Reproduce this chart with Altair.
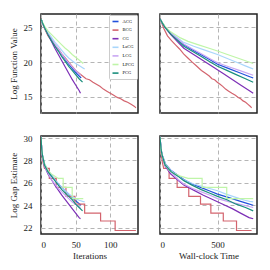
import altair as alt
import pandas as pd

methods = ["ACG", "BCG", "CG", "LaCG", "LCG", "LPCG", "PCG"]
colors = ["#2150dc", "#d3646e", "#7d2fb6", "#a9d6fb", "#c9a6f3", "#bff5a8", "#1a8f7d"]

# ---- function values (iterations, wall-clock time, log f) ----
ACG_it = [0, 1, 2, 5, 10, 15, 20, 25, 30, 35, 40, 45, 50, 55, 58]
ACG_t = [0, 9, 19, 47, 97, 152, 207, 280, 353, 427, 500, 593, 686, 763, 810]
ACG_f = [26.2, 26.0, 25.7, 25.0, 24.1, 23.3, 22.5, 21.8, 21.1, 20.4, 19.7, 19.1, 18.5, 18.0, 17.7]
ACG_g = [30.1, 29.0, 28.5, 27.7, 27.1, 26.7, 26.3, 25.9, 25.6, 25.3, 25.0, 24.7, 24.4, 24.15, 24.0]

BCG_it = [0, 1, 2, 5, 10, 15, 20, 25, 30, 35, 40, 45, 50, 55, 60, 65, 70, 75, 80, 85, 90,
          95, 100, 105, 110, 115, 120, 125, 130, 135, 137]
BCG_t = [0, 7, 14, 32, 65, 100, 135, 170, 205, 242, 280, 320, 360, 395, 428, 451, 475, 498,
         522, 545, 570, 597, 625, 655, 680, 701, 722, 744, 765, 786, 796]
BCG_f = [26.2, 26.0, 25.7, 24.9, 23.8, 23.1, 22.5, 21.9, 21.2, 20.6, 20.0, 19.4, 18.8, 18.4,
         18.0, 17.6, 17.45, 17.1, 16.8, 16.5, 16.1, 15.8, 15.5, 15.2, 14.9, 14.7, 14.4, 14.2,
         13.9, 13.6, 13.4]
BCG_git = [0, 1, 2, 3, 5, 12, 12, 22, 22, 36, 36, 49, 49, 63, 63, 86, 86, 107, 107, 137]
BCG_gt = [0, 7, 14, 21, 32, 79, 79, 149, 149, 250, 250, 352, 352, 442, 442, 550, 550, 665, 665, 796]
BCG_g = [30.1, 29.0, 28.3, 27.8, 27.3, 27.3, 26.4, 26.4, 25.6, 25.6, 24.8, 24.8, 24.1, 24.1,
         23.3, 23.3, 22.6, 22.6, 21.75, 21.75]

CG_it = [0, 1, 2, 5, 10, 15, 20, 25, 30, 35, 40, 45, 50, 55, 57]
CG_t = [0, 9, 18, 44, 92, 149, 207, 292, 377, 462, 546, 628, 700, 774, 810]
CG_f = [26.2, 26.0, 25.7, 25.0, 24.0, 23.0, 22.0, 21.1, 20.2, 19.3, 18.4, 17.5, 16.7, 15.9, 15.5]
CG_g = [30.1, 29.0, 28.4, 27.5, 26.8, 26.3, 25.8, 25.35, 24.9, 24.5, 24.1, 23.7, 23.3, 22.9, 22.8]

LaCG_it = [0, 1, 2, 5, 10, 15, 20, 25, 30, 35, 40, 45, 50, 55, 60, 63]
LaCG_t = [0, 9, 18, 46, 93, 146, 199, 293, 396, 500, 574, 633, 692, 736, 780, 810]
LaCG_f = [26.2, 26.0, 25.75, 25.1, 24.3, 23.6, 22.9, 22.3, 21.7, 21.1, 20.6, 20.2, 19.8, 19.5, 19.2, 19.0]
LaCG_g = [30.1, 29.0, 28.5, 27.7, 27.1, 26.7, 26.3, 25.9, 25.6, 25.3, 25.0, 24.8, 24.6, 24.45, 24.35, 24.3]

LCG_it = [0, 1, 2, 5, 10, 15, 20, 25, 30, 35, 40, 45, 50, 57]
LCG_t = [0, 9, 19, 47, 99, 157, 207, 283, 359, 435, 500, 603, 689, 810]
LCG_f = [26.2, 26.0, 25.7, 25.0, 24.1, 23.3, 22.6, 21.9, 21.2, 20.5, 19.9, 19.3, 18.8, 18.1]
LCG_g = [30.1, 29.0, 28.4, 27.5, 26.9, 26.3, 25.9, 25.5, 25.2, 24.9, 24.6, 24.3, 24.1, 23.8]

LPCG_it = [0, 1, 2, 5, 10, 15, 20, 25, 30, 35, 40, 45, 50, 55, 61]
LPCG_t = [0, 8, 17, 42, 82, 130, 178, 244, 335, 427, 500, 586, 655, 724, 810]
LPCG_f = [26.2, 26.0, 25.8, 25.2, 24.5, 24.0, 23.5, 23.0, 22.5, 22.0, 21.6, 21.1, 20.7, 20.3, 19.8]
LPCG_git = [0, 1, 2, 5, 10, 15, 20, 25, 32, 32, 45, 45, 61]
LPCG_gt = [0, 8, 17, 42, 82, 130, 178, 244, 366, 366, 580, 580, 810]
LPCG_g = [30.1, 29.0, 28.5, 27.7, 27.1, 26.8, 26.6, 26.4, 26.4, 25.6, 25.6, 24.6, 24.6]

PCG_it = [0, 1, 2, 5, 10, 15, 20, 25, 30, 35, 40, 45, 50, 55, 60]
PCG_t = [0, 9, 18, 44, 96, 155, 207, 278, 359, 429, 500, 581, 662, 743, 810]
PCG_f = [26.2, 26.0, 25.7, 25.0, 24.0, 23.1, 22.3, 21.6, 20.8, 20.1, 19.4, 18.8, 18.2, 17.6, 17.1]
PCG_g = [30.1, 29.0, 28.5, 27.6, 27.0, 26.6, 26.2, 25.8, 25.4, 25.1, 24.8, 24.5, 24.1, 23.8, 23.5]

f_series = {
    "ACG": (ACG_it, ACG_t, ACG_f),
    "BCG": (BCG_it, BCG_t, BCG_f),
    "CG": (CG_it, CG_t, CG_f),
    "LaCG": (LaCG_it, LaCG_t, LaCG_f),
    "LCG": (LCG_it, LCG_t, LCG_f),
    "LPCG": (LPCG_it, LPCG_t, LPCG_f),
    "PCG": (PCG_it, PCG_t, PCG_f),
}
g_series = {
    "ACG": (ACG_it, ACG_t, ACG_g),
    "BCG": (BCG_git, BCG_gt, BCG_g),
    "CG": (CG_it, CG_t, CG_g),
    "LaCG": (LaCG_it, LaCG_t, LaCG_g),
    "LCG": (LCG_it, LCG_t, LCG_g),
    "LPCG": (LPCG_git, LPCG_gt, LPCG_g),
    "PCG": (PCG_it, PCG_t, PCG_g),
}


def to_df(series):
    rows = []
    for m in methods:
        its, ts, vs = series[m]
        for i, (a, b, c) in enumerate(zip(its, ts, vs)):
            rows.append({"method": m, "it": a, "t": b, "v": c, "idx": i})
    return pd.DataFrame(rows)


df_f = to_df(f_series)
df_g = to_df(g_series)

FONT = "Liberation Serif"
W, H_TOP, H_BOT = 97, 99, 98


def panel(df, xfield, xdom, xvals, ydom, yvals, xlab, xtitle, ylab, ytitle, legend, h):
    xaxis = alt.Axis(values=xvals, labels=xlab, grid=True)
    yaxis = alt.Axis(values=yvals, labels=ylab, grid=True)
    xenc = alt.X(f"{xfield}:Q", scale=alt.Scale(domain=xdom, nice=False, zero=False),
                 axis=xaxis, title=xtitle if xtitle else None)
    yenc = alt.Y("v:Q", scale=alt.Scale(domain=ydom, nice=False, zero=False),
                 axis=yaxis, title=ytitle if ytitle else None)
    if legend:
        leg = alt.Legend(orient="top-right", title=None, offset=1, labelFont=FONT,
                         labelFontSize=4.5, symbolType="stroke", symbolSize=36,
                         symbolStrokeWidth=1.6, rowPadding=0.6, labelOffset=3,
                         padding=2.5, strokeColor="#cccccc", fillColor="white",
                         cornerRadius=1)
    else:
        leg = None
    col = alt.Color("method:N", scale=alt.Scale(domain=methods, range=colors),
                    legend=leg, sort=methods)
    return alt.Chart(df).mark_line(strokeWidth=1.2, clip=True).encode(
        x=xenc, y=yenc, color=col, order=alt.Order("idx:Q")
    ).properties(width=W, height=h)


tl = panel(df_f, "it", [0, 140], [0, 50, 100], [12.65, 26.95], [15, 20, 25],
           False, None, True, "Log Function Value", True, H_TOP)
tr = panel(df_f, "t", [0, 843], [0, 500], [12.65, 26.95], [15, 20, 25],
           False, None, False, None, False, H_TOP)
bl = panel(df_g, "it", [0, 140], [0, 50, 100], [21.44, 30.18], [22, 24, 26, 28, 30],
           True, "Iterations", True, "Log Gap Estimate", False, H_BOT)
br = panel(df_g, "t", [0, 843], [0, 500], [21.44, 30.18], [22, 24, 26, 28, 30],
           True, "Wall-clock Time", False, None, False, H_BOT)

top = alt.hconcat(tl, tr, spacing=20).resolve_scale(color="independent").resolve_legend(color="independent")
bot = alt.hconcat(bl, br, spacing=20).resolve_scale(color="independent").resolve_legend(color="independent")

chart = alt.vconcat(top, bot, spacing=19).resolve_scale(color="independent").resolve_legend(
    color="independent"
).properties(
    padding={"left": 0, "top": 5, "right": 0, "bottom": 0}
).configure(font=FONT).configure_view(
    stroke="#222222", strokeWidth=1.5
).configure_axis(
    domain=False, ticks=False, grid=True, gridDash=[4, 3], gridColor="#b5b5b5",
    gridWidth=1, labelFont=FONT, titleFont=FONT, labelFontSize=9, titleFontSize=9,
    titleFontWeight="normal", labelColor="#222222", titleColor="#222222"
).configure_axisY(labelPadding=9, titlePadding=5).configure_axisX(labelPadding=6, titlePadding=2)

chart.save("out.html", embed_options={"renderer": "svg", "actions": False})
